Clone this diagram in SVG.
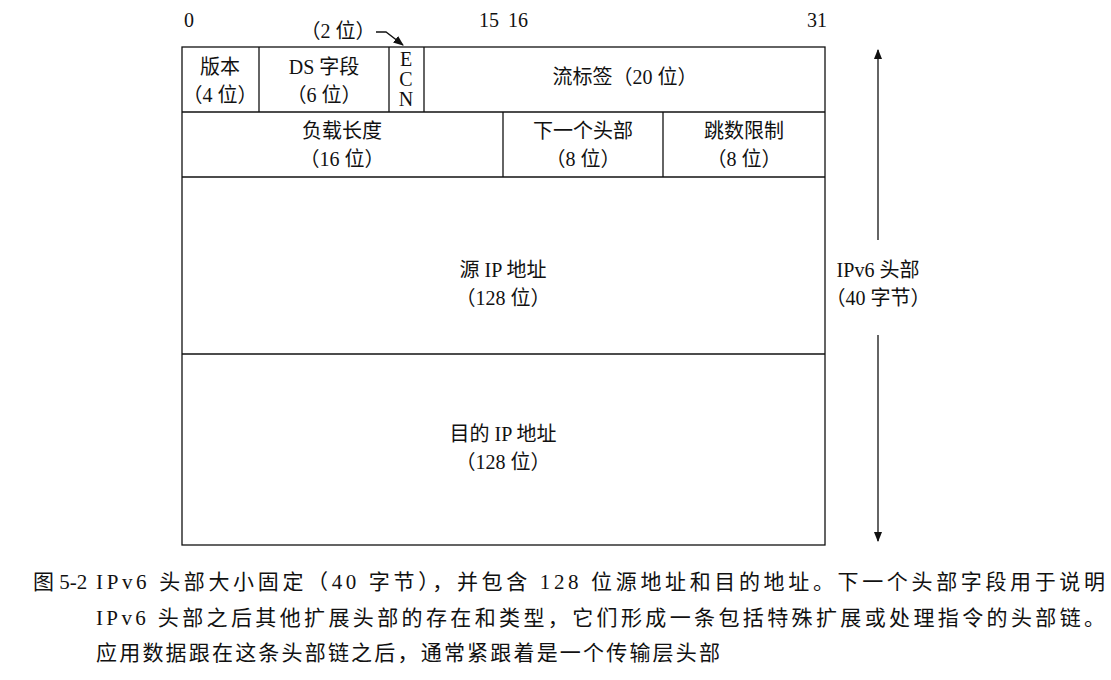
<svg xmlns="http://www.w3.org/2000/svg" width="1111" height="680" viewBox="0 0 1111 680">
<style>
text{font-family:"Liberation Serif","Noto Sans CJK SC",serif;font-size:20px;fill:#111;text-anchor:middle}
.f{fill:none;stroke:#111;stroke-width:1.3}
.c{text-anchor:start;font-size:21px}
</style>
<defs><marker id="a" viewBox="0 0 10 10" refX="9" refY="5" markerWidth="8" markerHeight="8" orient="auto"><path d="M0,1L10,5L0,9z" fill="#111"/></marker></defs>
<rect width="1111" height="680" fill="#fff"/>
<g id="bits"><text x="189" y="27">0</text><text x="489" y="27">15</text><text x="518" y="27">16</text><text x="817" y="27">31</text></g>
<g id="header"><rect class="f" x="182" y="47" width="643" height="498"/></g>
<g id="version"><line class="f" x1="259" y1="47" x2="259" y2="112"/><text x="220" y="74">版本</text><text x="220" y="102">（4 位）</text></g>
<g id="ds"><line class="f" x1="389" y1="47" x2="389" y2="112"/><text x="324" y="74">DS 字段</text><text x="324" y="102">（6 位）</text><text x="338" y="38">（2 位）</text></g>
<g id="ecn"><line class="f" x1="424" y1="47" x2="424" y2="112"/><text x="406" y="66">E</text><text x="406" y="86">C</text><text x="406" y="106">N</text></g>
<g id="flow"><text x="625" y="84">流标签（20 位）</text></g>
<g id="payload"><line class="f" x1="182" y1="112" x2="825" y2="112"/><line class="f" x1="503" y1="112" x2="503" y2="177"/><text x="342" y="138">负载长度</text><text x="342" y="166">（16 位）</text></g>
<g id="next"><line class="f" x1="663" y1="112" x2="663" y2="177"/><text x="583" y="138">下一个头部</text><text x="583" y="166">（8 位）</text></g>
<g id="hop"><text x="744" y="138">跳数限制</text><text x="744" y="166">（8 位）</text></g>
<g id="src"><line class="f" x1="182" y1="177" x2="825" y2="177"/><text x="503" y="277">源 IP 地址</text><text x="503" y="305">（128 位）</text></g>
<g id="dst"><line class="f" x1="182" y1="354" x2="825" y2="354"/><text x="503" y="441">目的 IP 地址</text><text x="503" y="469">（128 位）</text></g>
<g id="size"><text x="878" y="277">IPv6 头部</text><text x="878" y="305">（40 字节）</text></g>
<g id="connectors">
<path class="f" d="M376,32H386L403,45" marker-end="url(#a)"/>
<line class="f" x1="878" y1="240" x2="878" y2="50" marker-end="url(#a)"/>
<line class="f" x1="878" y1="335" x2="878" y2="541" marker-end="url(#a)"/>
</g>
<g id="caption"><text class="c" x="33" y="589">图 5-2</text><text class="c" x="96" y="589" textLength="1009" lengthAdjust="spacing">IPv6 头部大小固定（40 字节），并包含 128 位源地址和目的地址。下一个头部字段用于说明</text><text class="c" x="96" y="625" textLength="1009" lengthAdjust="spacing">IPv6 头部之后其他扩展头部的存在和类型，它们形成一条包括特殊扩展或处理指令的头部链。</text><text class="c" x="96" y="660" textLength="624" lengthAdjust="spacing">应用数据跟在这条头部链之后，通常紧跟着是一个传输层头部</text></g>
</svg>
